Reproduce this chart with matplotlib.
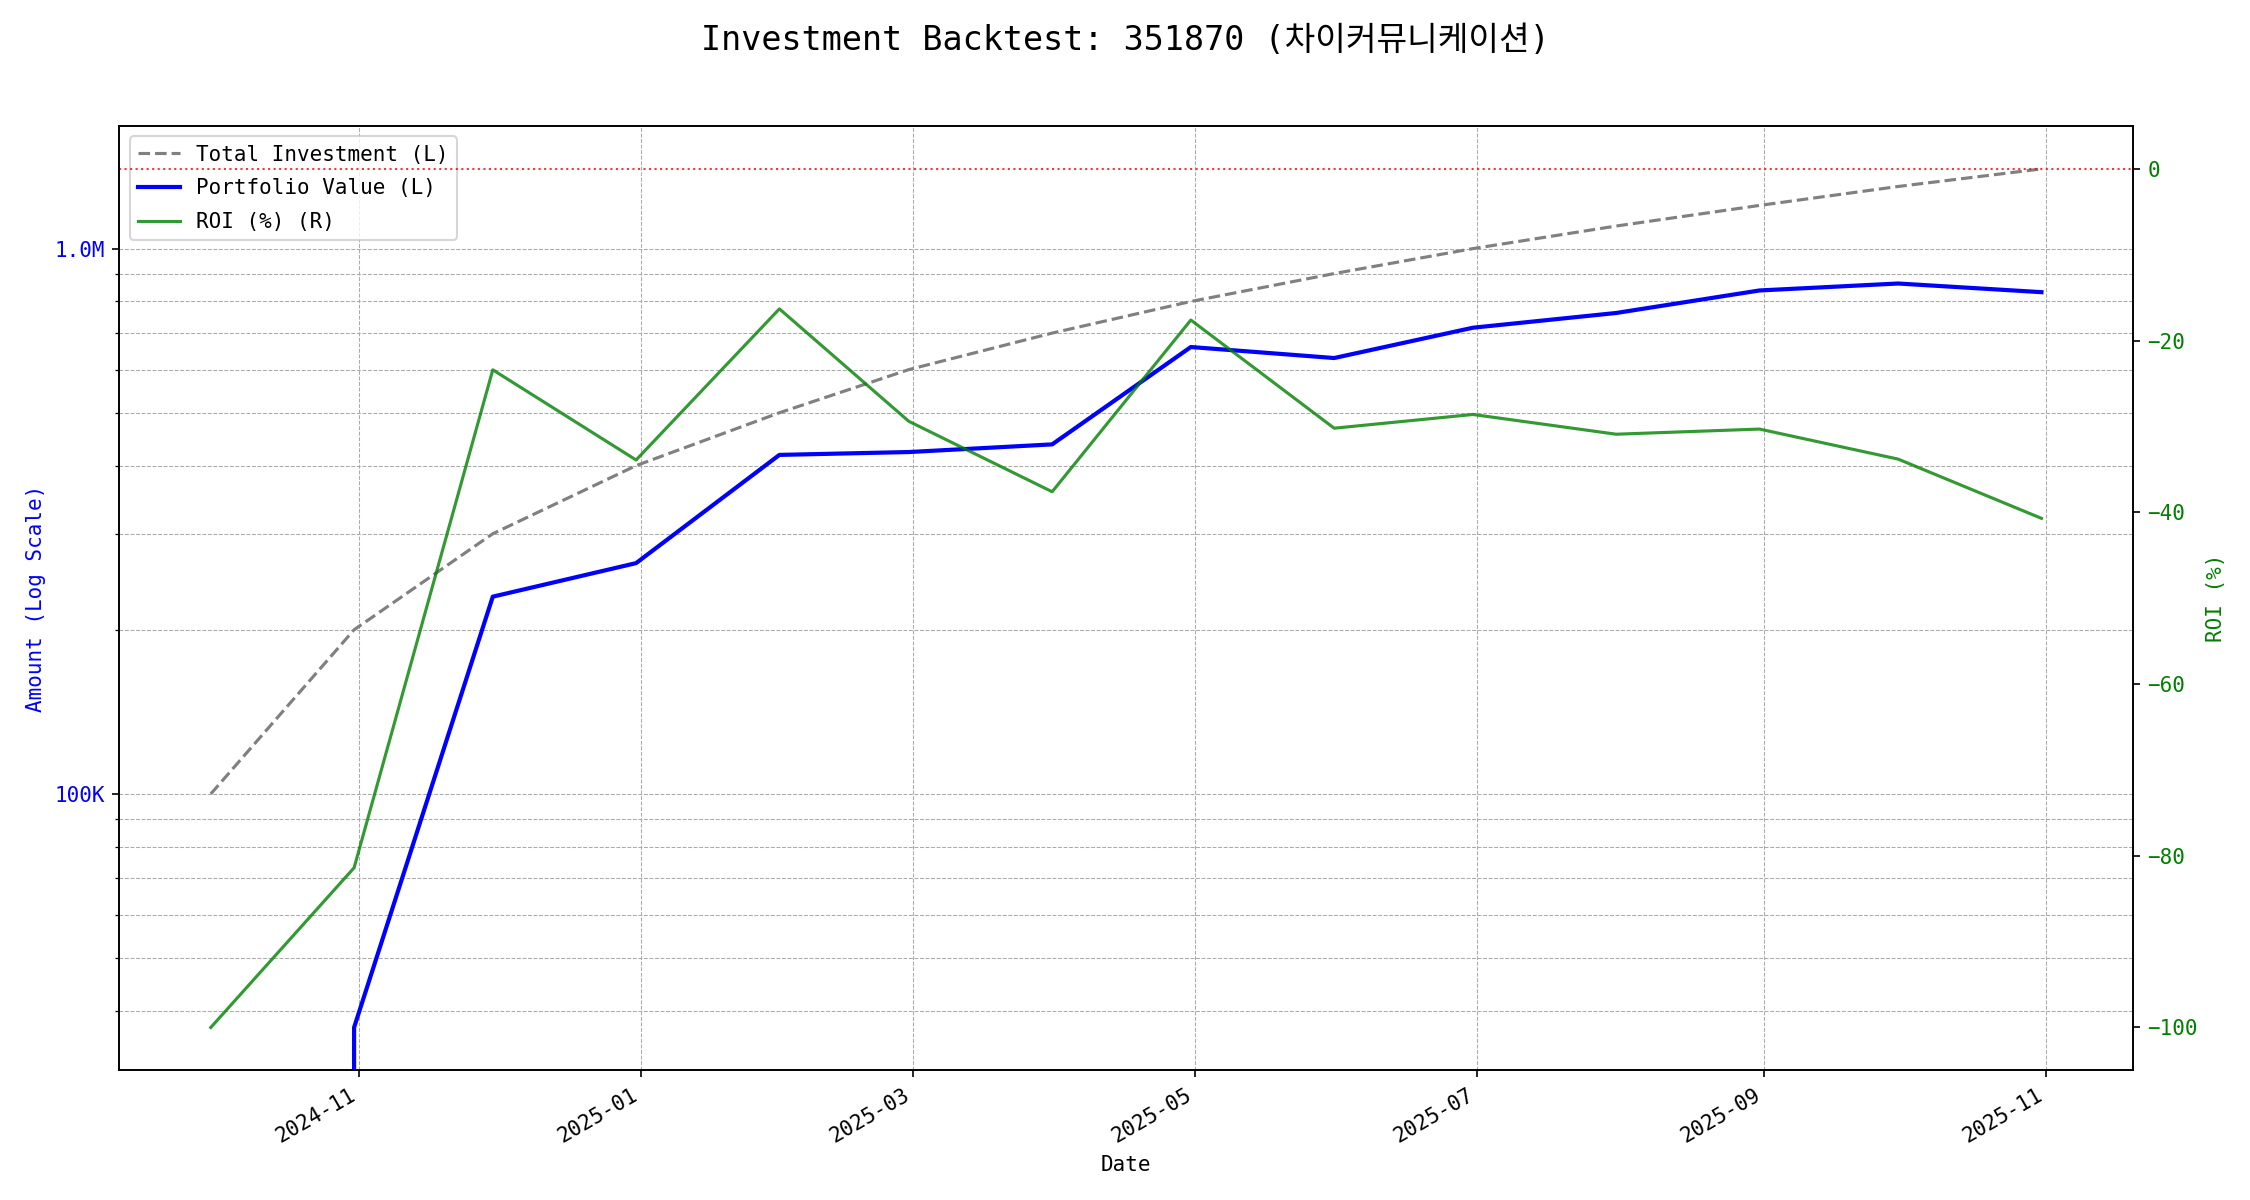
import matplotlib
matplotlib.use("Agg")
import matplotlib.pyplot as plt
import matplotlib.dates as mdates
from matplotlib.ticker import FuncFormatter, NullFormatter
import pandas as pd

plt.rcParams['font.family'] = ['DejaVu Sans Mono', 'Noto Sans CJK KR']

dates = pd.to_datetime([
    "2024-09-30", "2024-10-31", "2024-11-30", "2024-12-31", "2025-01-31",
    "2025-02-28", "2025-03-31", "2025-04-30", "2025-05-31", "2025-06-30",
    "2025-07-31", "2025-08-31", "2025-09-30", "2025-10-31",
])
total_investment = [100000, 200000, 300000, 400000, 500000, 600000, 700000,
                    800000, 900000, 1000000, 1100000, 1200000, 1300000, 1400000]
portfolio_value = [0, 37300, 230000, 265000, 418500, 423600, 437500,
                   660000, 630000, 716000, 762000, 838000, 863000, 832000]
roi_pct = [-100.0, -81.4, -23.4, -33.9, -16.3, -29.4, -37.6,
           -17.6, -30.2, -28.6, -30.9, -30.3, -33.8, -40.7]

title = "Investment Backtest: 351870 (차이커뮤니케이션)"

fig, ax1 = plt.subplots(figsize=(15, 8), dpi=150)

l1, = ax1.plot(dates, total_investment, color='gray', linestyle='--',
               linewidth=1.5, label='Total Investment (L)')
l2, = ax1.plot(dates, portfolio_value, color='blue', linewidth=2,
               label='Portfolio Value (L)')
ax1.set_yscale('log')

def amt_fmt(v, pos):
    if v >= 1e6:
        return f'{v/1e6:.1f}M'
    return f'{v/1e3:.0f}K'

ax1.yaxis.set_major_formatter(FuncFormatter(amt_fmt))
ax1.yaxis.set_minor_formatter(NullFormatter())
ax1.set_ylabel('Amount (Log Scale)', color='blue')
ax1.tick_params(axis='y', labelcolor='blue')
ax1.set_xlabel('Date')
ax1.grid(True, which='both', linestyle='--', linewidth=0.5, color='#aaaaaa')

ax2 = ax1.twinx()
l3, = ax2.plot(dates, roi_pct, color='green', alpha=0.8, linewidth=1.5,
               label='ROI (%) (R)')
ax2.axhline(0, color='red', linestyle=':', linewidth=1, alpha=0.8)
ax2.set_ylabel('ROI (%)', color='green')
ax2.tick_params(axis='y', labelcolor='green')

ax1.xaxis.set_major_locator(mdates.MonthLocator(bymonth=[1, 3, 5, 7, 9, 11]))
ax1.xaxis.set_major_formatter(mdates.DateFormatter('%Y-%m'))

ax1.legend(handles=[l1, l2, l3], loc='upper left', labelspacing=0.65)

fig.suptitle(title, fontsize=16)
fig.autofmt_xdate()
fig.subplots_adjust(left=0.053, right=0.948, top=0.895, bottom=0.108)

fig.savefig('out.png', dpi=150)
